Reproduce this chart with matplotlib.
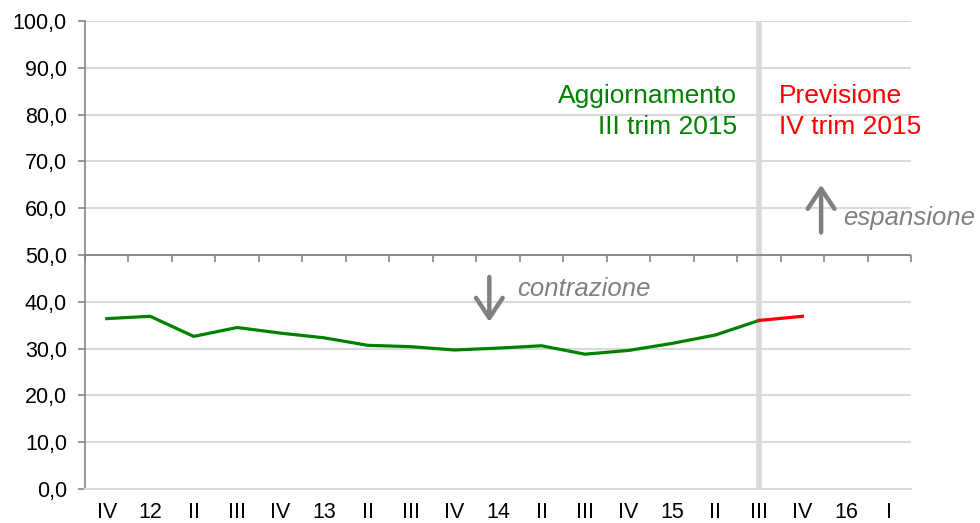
#!/usr/bin/env python3
import numpy as np
from matplotlib import pyplot as plt

plt.rcParams['font.family'] = ['Liberation Sans', 'DejaVu Sans']

# quarters, from IV 2011 to I 2016
labels = ["IV", "12", "II", "III", "IV", "13", "II", "III", "IV", "14",
          "II", "III", "IV", "15", "II", "III", "IV", "16", "I"]

# index survey (updated up to III quarter 2015)
actual = [36.4, 36.9, 32.6, 34.5, 33.3, 32.3, 30.7, 30.4, 29.7, 30.1,
          30.6, 28.8, 29.6, 31.1, 32.9, 36.0]
# forecast: III 2015 -> IV 2015
forecast = [36.0, 36.9]

x = np.arange(len(labels))
x_act = x[:len(actual)]
x_fc = x[len(actual) - 1:len(actual) - 1 + len(forecast)]

grid_col = "#d9d9d9"
axis_col = "#868686"

fig = plt.figure(figsize=(9.8, 5.23), dpi=100)
ax = fig.add_axes([0.0867, 0.065, 0.843, 0.895])

ax.set_ylim(0, 100)
ax.set_xlim(-0.5, len(labels) - 0.5)
ax.set_yticks(np.arange(0, 101, 10))
ax.set_yticklabels([f"{v:.1f}".replace(".", ",") for v in np.arange(0, 101, 10)],
                   fontsize=15.5)
ax.yaxis.grid(True, color=grid_col, lw=1.5)
ax.set_axisbelow(True)

ax.set_xticks(x)
ax.set_xticklabels(labels, fontsize=15.5)
ax.tick_params(axis="x", length=0, pad=9)
ax.tick_params(axis="y", length=5, color=axis_col, width=1.2, pad=8)

for s in ["top", "right"]:
    ax.spines[s].set_visible(False)
ax.spines["bottom"].set_color(grid_col)
ax.spines["bottom"].set_linewidth(1.5)
ax.spines["left"].set_color(axis_col)
ax.spines["left"].set_linewidth(1.2)

# axis crossing at 50 with category boundary ticks
ax.axhline(50, color=axis_col, lw=1.3, zorder=2)
sec = ax.secondary_xaxis(0.5)
sec.set_xticks(np.arange(-0.5, len(labels)))
sec.set_xticklabels([])
sec.tick_params(axis="x", direction="in", length=5, color=axis_col, width=1.2)
for s in sec.spines.values():
    s.set_visible(False)

# separator update / forecast
ax.axvline(len(actual) - 1, color=grid_col, lw=4, zorder=1)

ax.plot(x_act, actual, color="#008000", lw=2.3, zorder=3)
ax.plot(x_fc, forecast, color="#ff0000", lw=2.3, zorder=3)

ax.text(14.49, 82.5, "Aggiornamento", color="#008000", fontsize=19,
        ha="right", va="baseline")
ax.text(14.49, 75.9, "III trim 2015", color="#008000", fontsize=19,
        ha="right", va="baseline")
ax.text(15.47, 82.5, "Previsione", color="#ff0000", fontsize=19,
        ha="left", va="baseline")
ax.text(15.47, 75.9, "IV trim 2015", color="#ff0000", fontsize=19,
        ha="left", va="baseline")

arrow = dict(arrowstyle="->,head_width=0.32,head_length=0.48", lw=3.2,
             color="#808080", mutation_scale=30, shrinkA=0, shrinkB=0)
ax.annotate("", xy=(8.80, 35.7), xytext=(8.80, 45.3), arrowprops=arrow)
ax.annotate("", xy=(16.43, 65.0), xytext=(16.43, 54.8), arrowprops=arrow)
ax.text(9.44, 41.2, "contrazione", color="#808080", fontsize=18.5,
        style="italic", va="baseline")
ax.text(16.94, 56.4, "espansione", color="#808080", fontsize=18.5,
        style="italic", va="baseline", clip_on=False)

plt.savefig("out.png", dpi=100)
